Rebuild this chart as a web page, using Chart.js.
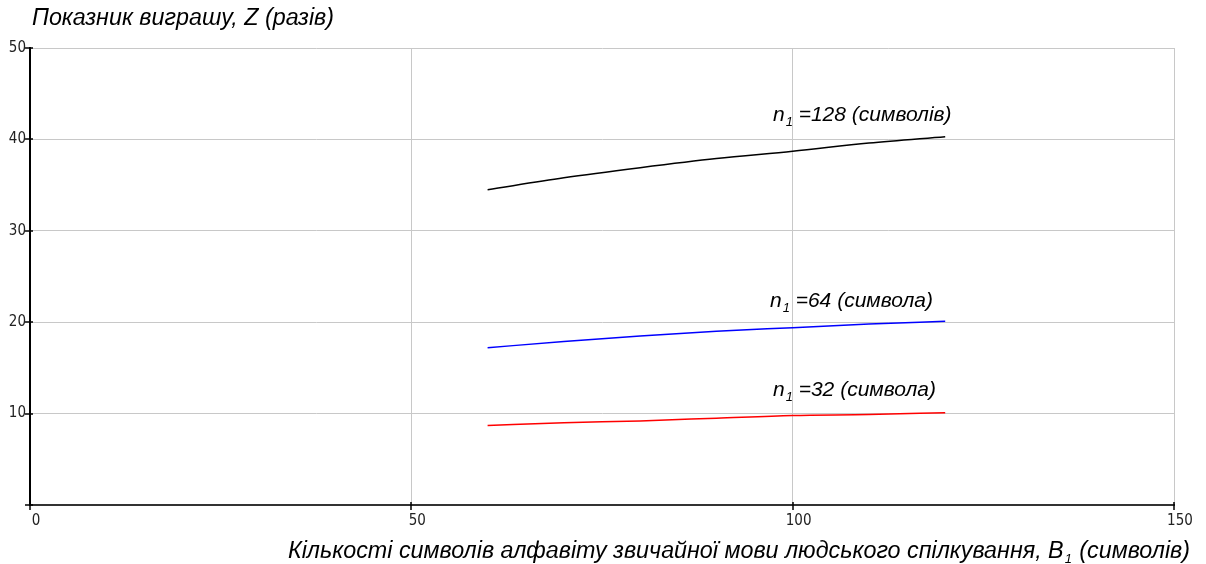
<!DOCTYPE html>
<html><head><meta charset="utf-8">
<script src="https://cdn.jsdelivr.net/npm/chart.js@4"></script>
<style>html,body{margin:0;padding:0;background:#fff}#wrap{width:1206px;height:564px;position:relative}</style>
</head><body><div id="wrap"><canvas id="c" width="1206" height="564"></canvas></div>
<script>
const xValues = [60, 70, 80, 90, 100, 110, 120];
const z128 = [34.5, 35.8, 36.9, 37.9, 38.7, 39.6, 40.3];
const z64 = [17.2, 17.9, 18.5, 19.0, 19.4, 19.8, 20.1];
const z32 = [8.7, 9.0, 9.2, 9.5, 9.8, 9.9, 10.1];
const xTicks = [0, 50, 100, 150];
const yTicks = [10, 20, 30, 40, 50];
const seriesLabels = ['=128 (символів)', '=64 (символа)', '=32 (символа)'];
const yTitle = 'Показник виграшу, Z (разів)';
const xTitleMain = 'Кількості символів алфавіту звичайної мови людського спілкування, B';
const xTitleTail = ' (символів)';

function pts(arr){ return xValues.map((x,i)=>({x:x,y:arr[i]})); }

const labelPlugin = {
  id:'labels',
  afterDraw(chart){
    const ctx = chart.ctx;
    const xs = chart.scales.x, ys = chart.scales.y;
    ctx.save();
    // crossing tick marks
    ctx.strokeStyle = '#000'; ctx.lineWidth = 1.5;
    const ax = xs.getPixelForValue(0), ay = ys.getPixelForValue(0);
    [0].concat(yTicks).forEach(v=>{ const py = Math.round(ys.getPixelForValue(v)); ctx.beginPath(); ctx.moveTo(ax-5, py); ctx.lineTo(ax+3, py); ctx.stroke(); });
    xTicks.forEach(v=>{ const px = Math.round(xs.getPixelForValue(v)); ctx.beginPath(); ctx.moveTo(px, ay-3); ctx.lineTo(px, ay+5); ctx.stroke(); });

    ctx.fillStyle = '#000';
    ctx.textBaseline = 'alphabetic';
    const lab = 'italic 21px "Liberation Sans", Arial, sans-serif';
    const big = 'italic 23.3px "Liberation Sans", Arial, sans-serif';
    const sub = 'italic 13px "Liberation Sans", Arial, sans-serif';
    function nLabel(px, py, text){
      ctx.font = lab; ctx.textAlign='left';
      ctx.fillText('n', px, py);
      let w = ctx.measureText('n').width;
      ctx.font = sub; ctx.fillText('1', px + w + 1, py + 5);
      ctx.font = lab; ctx.fillText(text, px + w + 14, py);
    }
    nLabel(773, 121, seriesLabels[0]);
    nLabel(770, 307, seriesLabels[1]);
    nLabel(773, 396, seriesLabels[2]);
    // y title
    ctx.font = big; ctx.textAlign='left';
    ctx.fillText(yTitle, 32, 25);
    // x title right aligned
    ctx.font = big;
    const wTail = ctx.measureText(xTitleTail).width;
    ctx.font = sub;
    const wSub = ctx.measureText('1').width;
    ctx.font = big;
    const wMain = ctx.measureText(xTitleMain).width;
    const right = 1190, base = 558;
    const start = right - wTail - wSub - 2 - wMain;
    ctx.fillText(xTitleMain, start, base);
    ctx.font = sub; ctx.fillText('1', start + wMain + 1, base + 5);
    ctx.font = big; ctx.fillText(xTitleTail, start + wMain + wSub + 2, base);
    ctx.restore();
  }
};

const tickFont = {family:'"Liberation Sans Narrow", "DejaVu Sans Condensed", sans-serif', size:15};

new Chart(document.getElementById('c'), {
  type:'line',
  data:{ datasets:[
    {data:pts(z128), borderColor:'#000000', borderWidth:1.5, pointRadius:0, cubicInterpolationMode:'monotone', fill:false},
    {data:pts(z64), borderColor:'#0000ff', borderWidth:1.5, pointRadius:0, cubicInterpolationMode:'monotone', fill:false},
    {data:pts(z32), borderColor:'#ff0000', borderWidth:1.5, pointRadius:0, cubicInterpolationMode:'monotone', fill:false}
  ]},
  options:{
    responsive:false, animation:false,
    layout:{padding:{left:0, right:32, top:48, bottom:0}},
    plugins:{legend:{display:false}, tooltip:{enabled:false}, title:{display:false}},
    scales:{
      x:{type:'linear', min:0, max:150,
        afterBuildTicks(s){ s.ticks = xTicks.map(v=>({value:v})); },
        afterFit(s){ s.height = 59; },
        grid:{color:'#c8c8c8', lineWidth:1, tickLength:5, tickColor:'rgba(0,0,0,0)', drawTicks:true},
        border:{color:'#333', width:2},
        ticks:{color:'#222', font:tickFont, padding:2, labelOffset:6, maxRotation:0}
      },
      y:{type:'linear', min:0, max:50,
        afterBuildTicks(s){ s.ticks = yTicks.map(v=>({value:v})); },
        afterFit(s){ s.width = 30; },
        grid:{color:'#c8c8c8', lineWidth:1, tickLength:3, tickColor:'rgba(0,0,0,0)'},
        border:{color:'#000', width:2},
        ticks:{color:'#222', font:tickFont, padding:1}
      }
    }
  },
  plugins:[labelPlugin]
});
</script></body></html>
